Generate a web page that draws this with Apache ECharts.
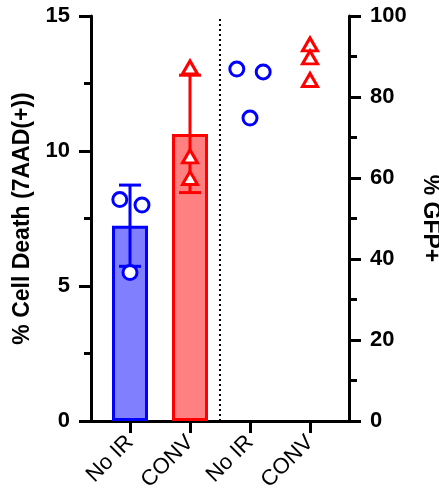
<!DOCTYPE html>
<html>
<head>
<meta charset="utf-8">
<script src="https://cdn.jsdelivr.net/npm/echarts@6/dist/echarts.min.js"></script>
<style>
  html, body { margin: 0; padding: 0; background: #fff; }
  #chart { width: 439px; height: 493px; }
</style>
</head>
<body>
<div id="chart"></div>
<script>
// groups along the x axis (0..3)
const categories = ['No IR', 'CONV', 'No IR', 'CONV'];

// % cell death (7AAD+), left axis
const deathNoIR = [8.2, 8.0, 5.5];
const deathConv = [13.1, 9.8, 9.0];
// % GFP+, right axis
const gfpNoIR = [86.9, 86.2, 74.8];
const gfpConv = [93.0, 89.8, 84.2];

// horizontal scatter of the replicate points, in category units
const jitterNoIR = [-0.17, 0.2, 0];
const jitterGfpNoIR = [-0.22, 0.22, 0];
const jitterConv = [0, 0, 0];

const leftTicks = [0, 5, 10, 15];
const rightTicks = [0, 20, 40, 60, 80, 100];

const mean = a => a.reduce((s, v) => s + v, 0) / a.length;
const sd = a => {
  const m = mean(a);
  return Math.sqrt(a.reduce((s, v) => s + (v - m) * (v - m), 0) / (a.length - 1));
};

const pts = (vals, x, jit) => vals.map((v, i) => [x + jit[i], v]);

const font = 'Liberation Sans, Arial, sans-serif';

const chart = echarts.init(document.getElementById('chart'), null, { renderer: 'canvas' });

const errData = [
  [0, mean(deathNoIR), sd(deathNoIR), '#0000ff'],
  [1, mean(deathConv), sd(deathConv), '#ff0000']
];

chart.setOption({
  animation: false,
  grid: { left: 91, right: 90, top: 16, bottom: 72, outerBoundsMode: 'none', containLabel: false },
  xAxis: {
    type: 'value',
    min: -0.65,
    max: 3.65,
    splitLine: { show: false },
    axisLine: { onZero: false, lineStyle: { color: '#000', width: 3 } },
    axisTick: { show: true, customValues: [0, 1, 2, 3], length: 12, lineStyle: { color: '#000', width: 3 } },
    axisLabel: {
      customValues: [0, 1, 2, 3],
      formatter: v => categories[Math.round(v)],
      rotate: 45,
      margin: 18,
      color: '#000',
      fontSize: 22,
      fontFamily: font
    }
  },
  yAxis: [
    {
      type: 'value',
      min: 0,
      max: 15,
      interval: 5,
      position: 'left',
      name: '% Cell Death (7AAD(+))',
      nameLocation: 'middle',
      nameGap: 50,
      nameTextStyle: { color: '#000', fontSize: 23, fontWeight: 'bold', fontFamily: font },
      splitLine: { show: false },
      axisLine: { show: true, onZero: false, lineStyle: { color: '#000', width: 3 } },
      axisTick: { show: true, length: 12, lineStyle: { color: '#000', width: 3 } },
      minorTick: { show: true, splitNumber: 2, length: 7, lineStyle: { color: '#000', width: 3 } },
      axisLabel: {
        margin: 21,
        color: '#000',
        fontSize: 22,
        fontWeight: 'bold',
        fontFamily: font,
        formatter: v => leftTicks.includes(v) ? String(v) : ''
      }
    },
    {
      type: 'value',
      min: 0,
      max: 100,
      interval: 20,
      position: 'right',
      name: '% GFP+',
      nameLocation: 'middle',
      nameRotate: -90,
      nameGap: 70,
      nameTextStyle: { color: '#000', fontSize: 23, fontWeight: 'bold', fontFamily: font },
      splitLine: { show: false },
      axisLine: { show: true, onZero: false, lineStyle: { color: '#000', width: 3 } },
      axisTick: { show: true, length: 12, lineStyle: { color: '#000', width: 3 } },
      minorTick: { show: true, splitNumber: 2, length: 8, lineStyle: { color: '#000', width: 3 } },
      axisLabel: {
        margin: 21,
        color: '#000',
        fontSize: 22,
        fontWeight: 'bold',
        fontFamily: font,
        formatter: v => rightTicks.includes(v) ? String(v) : ''
      }
    }
  ],
  series: [
    {
      type: 'bar',
      yAxisIndex: 0,
      barWidth: 36,
      data: [
        { value: [0, mean(deathNoIR)], itemStyle: { color: '#8080ff', borderColor: '#0000ff', borderWidth: 3 } },
        { value: [1, mean(deathConv)], itemStyle: { color: '#ff8080', borderColor: '#ff0000', borderWidth: 3 } }
      ],
      markLine: {
        silent: true,
        symbol: 'none',
        label: { show: false },
        lineStyle: { color: '#000', type: [2, 3], width: 2 },
        data: [{ xAxis: 1.5 }]
      },
      z: 2
    },
    {
      type: 'custom',
      yAxisIndex: 0,
      z: 3,
      data: errData,
      renderItem: (params, api) => {
        const x = api.value(0), m = api.value(1), s = api.value(2);
        const color = errData[params.dataIndex][3];
        const top = api.coord([x, m + s]);
        const bot = api.coord([x, m - s]);
        const half = 11;
        const style = { stroke: color, lineWidth: 3 };
        return {
          type: 'group',
          children: [
            { type: 'line', shape: { x1: top[0], y1: top[1], x2: bot[0], y2: bot[1] }, style },
            { type: 'line', shape: { x1: top[0] - half, y1: top[1], x2: top[0] + half, y2: top[1] }, style },
            { type: 'line', shape: { x1: bot[0] - half, y1: bot[1], x2: bot[0] + half, y2: bot[1] }, style }
          ]
        };
      }
    },
    {
      type: 'scatter',
      yAxisIndex: 0,
      z: 4,
      symbol: 'circle',
      symbolSize: 14,
      itemStyle: { color: '#fff', borderColor: '#0000ff', borderWidth: 3, opacity: 1 },
      data: pts(deathNoIR, 0, jitterNoIR)
    },
    {
      type: 'scatter',
      yAxisIndex: 0,
      z: 4,
      symbol: 'triangle',
      symbolSize: [15, 13],
      itemStyle: { color: '#fff', borderColor: '#ff0000', borderWidth: 3, opacity: 1 },
      data: pts(deathConv, 1, jitterConv)
    },
    {
      type: 'scatter',
      yAxisIndex: 1,
      z: 4,
      symbol: 'circle',
      symbolSize: 14,
      itemStyle: { color: '#fff', borderColor: '#0000ff', borderWidth: 3, opacity: 1 },
      data: pts(gfpNoIR, 2, jitterGfpNoIR)
    },
    {
      type: 'scatter',
      yAxisIndex: 1,
      z: 4,
      symbol: 'triangle',
      symbolSize: [15, 13],
      itemStyle: { color: '#fff', borderColor: '#ff0000', borderWidth: 3, opacity: 1 },
      data: pts(gfpConv, 3, jitterConv)
    }
  ]
});
</script>
</body>
</html>
